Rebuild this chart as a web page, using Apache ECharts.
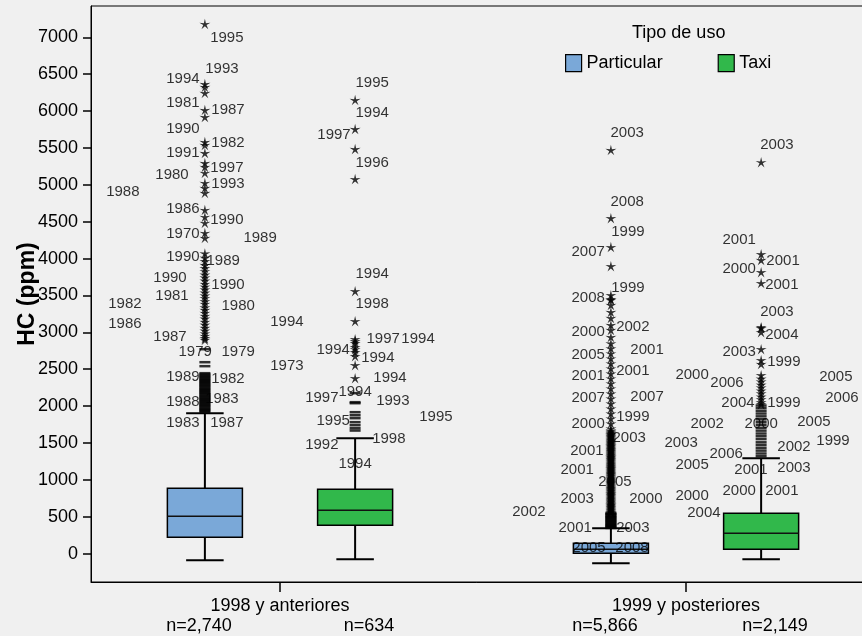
<!DOCTYPE html>
<html><head><meta charset="utf-8">
<script src="https://cdn.jsdelivr.net/npm/echarts@6/dist/echarts.min.js"></script>
<style>html,body{margin:0;padding:0;background:#f0f0f0}#c{width:862px;height:636px}</style>
</head><body><div id="c"></div>
<script>
// ---------- data ----------
const groups = ['1998 y anteriores', '1999 y posteriores'];
const uses = ['Particular', 'Taxi'];
const countsParticular = ['2,740', '5,866'];
const countsTaxi = ['634', '2,149'];
const yTicks = [0, 500, 1000, 1500, 2000, 2500, 3000, 3500, 4000, 4500, 5000, 5500, 6000, 6500, 7000];

// box statistics per group: [lower whisker, Q1, median, Q3, upper whisker]
const boxParticular = [[-91, 221, 506, 886, 1902], [-132, 4, 58, 140, 343]];
const boxTaxi = [[-77, 384, 587, 872, 1564], [-77, 58, 275, 547, 1293]];

// extreme outliers (stars) and mild outliers per box
const extremeP98 = [7180, 6366, 6325, 6244, 6013, 5918, 5579, 5538, 5430, 5295, 5241, 5160, 5024, 4956, 4888, 4658, 4563, 4482, 4346, 4278,
  4070, 4010, 3965, 3912, 3870, 3828, 3781, 3742, 3700, 3655, 3618, 3580, 3537, 3498, 3462, 3420, 3384, 3338, 3302, 3262, 3221, 3185, 3140, 3102, 3060, 3022, 2984, 2950, 2921, 2896];
const mildP98 = [2771, 2595, 2541, 2446, 2430, 2415, 2400, 2386, 2370, 2354, 2340, 2326, 2310, 2295, 2280, 2266, 2250, 2234, 2220, 2205, 2190, 2176, 2160, 2144, 2130,
  2115, 2100, 2086, 2070, 2055, 2040, 2024, 2010, 1996, 1980, 1964, 1950, 1935, 1920];
const extremeT98 = [6149, 5755, 5484, 5077, 3558, 3151, 2907, 2880, 2853, 2799, 2770, 2731, 2677, 2555, 2378];
const mildT98 = [2175, 2053, 2039, 1917, 1876, 1836, 1782, 1741, 1700, 1668];
const extremeP99 = [5471, 4548, 4155, 3897, 3504, 3450, 3369, 3437, 3274, 3193, 3098, 3030, 2935, 2849, 2781, 2713, 2645, 2577, 2509, 2441,
  2374, 2306, 2238, 2170, 2102, 2034, 1966, 1898, 1831, 1763, 1695, 1668, 1655, 1642, 1630, 1619, 1608, 1596, 1583, 1571, 1557, 1544, 1533,
  1521, 1509, 1497, 1484, 1470, 1458, 1446, 1431, 1418, 1407, 1396, 1385, 1372, 1358, 1344, 1332, 1320, 1309, 1297, 1284, 1271, 1259, 1246,
  1232, 1219, 1208, 1196, 1183, 1170, 1158, 1147, 1133, 1121, 1107, 1094, 1082, 1071, 1058, 1046, 1032, 1019, 1008, 996, 982, 969, 958,
  946, 933, 921, 907, 894, 883, 871, 858, 846, 832, 819, 808, 796, 783, 771, 757, 744, 733, 721, 708, 696, 682, 669, 658, 646, 633, 621,
  608, 596, 583, 571, 560];
const mildP99 = [552, 540, 531, 517, 504, 493, 482, 468, 455, 443, 431, 417, 404, 392, 381, 369, 358, 348];
const extremeT99 = [5306, 4060, 3979, 3816, 3667, 3070, 3056, 3002, 2772, 2623, 2569, 2419, 2371, 2332, 2288, 2251, 2209, 2171, 2128, 2092, 2051, 2026];
const mildT99 = [2008, 1974, 1936, 1899, 1861, 1822, 1784, 1746, 1705, 1667, 1628, 1591, 1552, 1509, 1472, 1433, 1396, 1357, 1320];

// case labels: [x on group axis, HC value, year]
const caseLabels = [
  [-0.131,6990,'1995'],[-0.143,6570,'1993'],[-0.239,6434,'1994'],[-0.239,6108,'1981'],[-0.128,6013,'1987'],[-0.239,5756,'1990'],
  [-0.128,5566,'1982'],[-0.239,5430,'1991'],[-0.131,5227,'1997'],[-0.266,5132,'1980'],[-0.128,5010,'1993'],[-0.387,4901,'1988'],
  [-0.239,4670,'1986'],[-0.131,4521,'1990'],[-0.239,4331,'1970'],[-0.049,4277,'1989'],[-0.239,4019,'1990'],[-0.140,3965,'1989'],
  [-0.271,3734,'1990'],[-0.128,3639,'1990'],[-0.266,3490,'1981'],[-0.103,3355,'1980'],[-0.382,3382,'1982'],[-0.382,3110,'1986'],
  [-0.271,2934,'1987'],[-0.209,2731,'1979'],[-0.103,2731,'1979'],[-0.239,2391,'1989'],[-0.128,2364,'1982'],[-0.239,2052,'1988'],
  [-0.143,2093,'1983'],[-0.239,1767,'1983'],[-0.131,1767,'1987'],
  [0.227,6380,'1995'],[0.227,5973,'1994'],[0.133,5674,'1997'],[0.227,5294,'1996'],[0.227,3789,'1994'],[0.227,3382,'1998'],
  [0.017,3138,'1994'],[0.254,2907,'1997'],[0.340,2907,'1994'],[0.131,2758,'1994'],[0.241,2649,'1994'],[0.017,2541,'1973'],
  [0.271,2378,'1994'],[0.185,2188,'1994'],[0.103,2107,'1997'],[0.278,2066,'1993'],[0.384,1849,'1995'],[0.131,1795,'1995'],
  [0.268,1550,'1998'],[0.103,1469,'1992'],[0.185,1211,'1994'],
  [0.855,5701,'2003'],[0.855,4765,'2008'],[0.857,4358,'1999'],[0.759,4087,'2007'],[0.857,3599,'1999'],[0.759,3463,'2008'],
  [0.869,3070,'2002'],[0.759,3002,'2000'],[0.904,2758,'2001'],[0.759,2690,'2005'],[0.869,2473,'2001'],[0.759,2405,'2001'],
  [0.904,2120,'2007'],[0.759,2107,'2007'],[0.869,1849,'1999'],[0.759,1754,'2000'],[0.860,1564,'2003'],[0.756,1388,'2001'],
  [0.732,1130,'2001'],[0.825,967,'2005'],[0.732,737,'2003'],[0.901,737,'2000'],[0.613,560,'2002'],[0.727,343,'2001'],
  [0.869,343,'2003'],[0.761,72,'2005'],[0.867,72,'2008'],
  [1.224,5539,'2003'],[1.131,4250,'2001'],[1.239,3965,'2001'],[1.131,3857,'2000'],[1.236,3639,'2001'],[1.224,3273,'2003'],
  [1.236,2961,'2004'],[1.131,2731,'2003'],[1.241,2595,'1999'],[1.015,2419,'2000'],[1.369,2391,'2005'],[1.101,2310,'2006'],
  [1.384,2107,'2006'],[1.128,2039,'2004'],[1.241,2039,'1999'],[1.315,1781,'2005'],[1.052,1754,'2002'],[1.185,1754,'2000'],
  [1.362,1523,'1999'],[0.988,1496,'2003'],[1.266,1442,'2002'],[1.099,1347,'2006'],[1.015,1198,'2005'],[1.266,1157,'2003'],
  [1.160,1130,'2001'],[1.131,845,'2000'],[1.236,845,'2001'],[1.015,777,'2000'],[1.044,547,'2004']
];

// ---------- layout / style ----------
const OFFSET = 0.185;      // box offset from group center (axis units)
const BOX_HALF = 0.0924;   // half box width (axis units)
const FONT = '"Liberation Sans", Arial, sans-serif';
const COLORS = {Particular: '#7aa8d8', Taxi: '#31b84b'};
const STAR = 'path://M50 0 L58.8 37.9 L97.55 34.55 L64.3 54.6 L79.39 90.45 L50 65 L20.61 90.45 L35.7 54.6 L2.45 34.55 L41.2 37.9 Z';

function xPos(g, use) { return g + (use === 'Particular' ? -OFFSET : OFFSET); }
function boxData(stats, use) { return stats.map((s, g) => [xPos(g, use)].concat(s)); }
function pts(vals, g, use) { return vals.map(v => [xPos(g, use), v]); }

function renderBox(params, api) {
  const x = api.value(0);
  const lo = api.coord([x, api.value(1)]);
  const q1 = api.coord([x, api.value(2)]);
  const med = api.coord([x, api.value(3)]);
  const q3 = api.coord([x, api.value(4)]);
  const hi = api.coord([x, api.value(5)]);
  const half = api.coord([x + BOX_HALF, 0])[0] - lo[0];
  const cap = half / 2;
  const color = api.visual('color');
  const ls = {stroke: '#000', lineWidth: 2};
  return {type: 'group', children: [
    {type: 'line', shape: {x1: lo[0], y1: lo[1], x2: hi[0], y2: hi[1]}, style: ls},
    {type: 'line', shape: {x1: lo[0] - cap, y1: lo[1], x2: lo[0] + cap, y2: lo[1]}, style: ls},
    {type: 'line', shape: {x1: hi[0] - cap, y1: hi[1], x2: hi[0] + cap, y2: hi[1]}, style: ls},
    {type: 'rect', shape: {x: q3[0] - half, y: q3[1], width: 2 * half, height: q1[1] - q3[1]},
      style: {fill: color, stroke: '#000', lineWidth: 1.5}},
    {type: 'line', shape: {x1: med[0] - half, y1: med[1], x2: med[0] + half, y2: med[1]},
      style: {stroke: '#111', lineWidth: 1.5}}
  ]};
}

const chart = echarts.init(document.getElementById('c'), null, {renderer: 'canvas'});
chart.setOption({
  backgroundColor: '#f0f0f0',
  animation: false,
  title: {text: 'Tipo de uso', left: 632, top: 24, padding: 0,
    textStyle: {fontFamily: FONT, fontSize: 18, fontWeight: 'normal', color: '#000'}},
  legend: {data: uses, left: 565, top: 54, padding: 0, icon: 'rect', itemWidth: 16, itemHeight: 17, itemGap: 55,
    itemStyle: {borderColor: '#000', borderWidth: 1.2},
    textStyle: {fontFamily: FONT, fontSize: 18, color: '#000'}},
  grid: {left: 91, top: 6, right: -4, bottom: 54, show: true, containLabel: false, outerBoundsMode: 'none',
    backgroundColor: '#f0f0f0', borderColor: '#000', borderWidth: 1},
  xAxis: {type: 'value', min: -0.4655, max: 1.4433,
    axisLine: {show: true, onZero: false, lineStyle: {color: '#000', width: 1}},
    splitLine: {show: false},
    axisTick: {show: true, length: 10, customValues: [0, 1], lineStyle: {color: '#000', width: 1.5}},
    axisLabel: {show: true, customValues: [0, 1], margin: 14,
      formatter: v => {
        const g = Math.round(v);
        return '{g|' + groups[g] + '}\n{a|n=' + countsParticular[g] + '}{b|n=' + countsTaxi[g] + '}';
      },
      rich: {
        g: {fontFamily: FONT, fontSize: 18, lineHeight: 20, color: '#000', align: 'center'},
        a: {fontFamily: FONT, fontSize: 18, lineHeight: 20, color: '#000', width: 178, align: 'center'},
        b: {fontFamily: FONT, fontSize: 18, lineHeight: 20, color: '#000', width: 162, align: 'center'}
      }}},
  yAxis: {type: 'value', min: -385, max: 7424,
    name: 'HC (ppm)', nameLocation: 'middle', nameRotate: 90, nameGap: 52, nameMoveOverlap: false,
    nameTextStyle: {fontFamily: FONT, fontSize: 23, fontWeight: 'bold', color: '#000'},
    axisLine: {show: true, onZero: false, lineStyle: {color: '#000', width: 1}},
    splitLine: {show: false},
    axisTick: {show: true, length: 8, customValues: yTicks, lineStyle: {color: '#000', width: 1.5}},
    axisLabel: {show: true, customValues: yTicks, margin: 13, fontFamily: FONT, fontSize: 18, color: '#000',
      formatter: v => String(v)}},
  series: [
    {name: 'Particular', type: 'custom', renderItem: renderBox, itemStyle: {color: COLORS.Particular},
      encode: {x: 0, y: [1, 2, 3, 4, 5]}, data: boxData(boxParticular, 'Particular'), z: 3},
    {name: 'Taxi', type: 'custom', renderItem: renderBox, itemStyle: {color: COLORS.Taxi},
      encode: {x: 0, y: [1, 2, 3, 4, 5]}, data: boxData(boxTaxi, 'Taxi'), z: 3},
    {name: 'mild', type: 'scatter', symbol: 'rect', symbolSize: [11, 2.5], itemStyle: {color: '#000'}, z: 4,
      data: [].concat(pts(mildP98, 0, 'Particular'), pts(mildT98, 0, 'Taxi'), pts(mildP99, 1, 'Particular'), pts(mildT99, 1, 'Taxi'))},
    {name: 'extreme', type: 'scatter', symbol: STAR, symbolSize: [11, 10.5], itemStyle: {color: '#000'}, z: 4,
      data: [].concat(pts(extremeP98, 0, 'Particular'), pts(extremeT98, 0, 'Taxi'), pts(extremeP99, 1, 'Particular'), pts(extremeT99, 1, 'Taxi'))},
    {name: 'labels', type: 'scatter', symbolSize: 1, itemStyle: {color: 'rgba(0,0,0,0)'}, z: 5,
      label: {show: true, position: 'inside', formatter: '{b}', fontFamily: FONT, fontSize: 15, color: '#000'},
      data: caseLabels.map(c => ({name: c[2], value: [c[0], c[1]]}))}
  ]
});
</script></body></html>
